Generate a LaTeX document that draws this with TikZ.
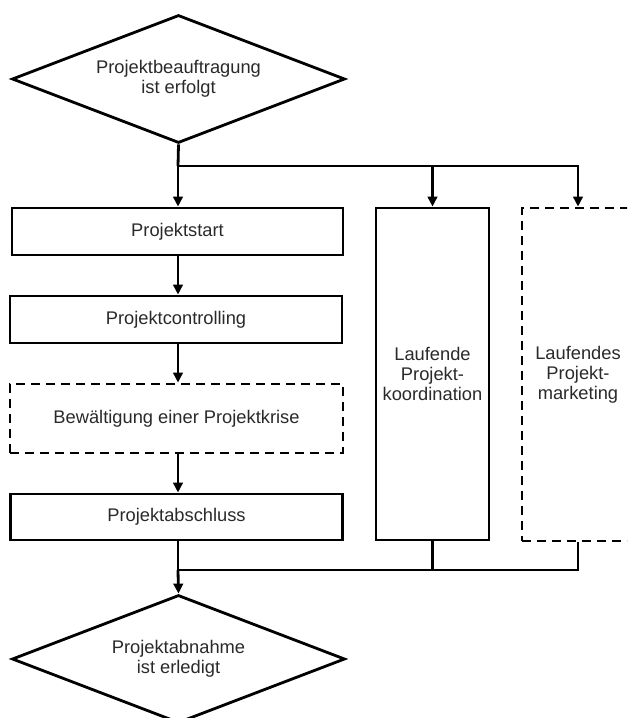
\documentclass[tikz,border=0pt]{standalone}
\usepackage{fontspec}
\setmainfont{Liberation Sans}
\usetikzlibrary{shapes.geometric,arrows.meta}

\definecolor{txt}{HTML}{2A2A2A}

\tikzset{
  every node/.style={font=\fontsize{18.3}{20}\selectfont, text=txt, align=center},
  frame/.style={draw=black, line width=2.8pt, fill=white},
  box/.style={frame, rectangle, inner sep=0pt},
  dashbox/.style={box, dash pattern=on 9pt off 6pt},
  decision/.style={frame, diamond, inner sep=0pt, aspect=2.6,
                   minimum width=333pt, minimum height=128pt},
  link/.style={draw=black, line width=2.8pt},
  arr/.style={link, -{Triangle[length=10pt,width=9.5pt]}},
}

\begin{document}
\begin{tikzpicture}[x=1pt, y=-1pt]
  \clip (0,0) rectangle (627,718);
  \fill[white] (0,0) rectangle (627,718);

  % main column
  \node[decision] (d1) at (178.5,79) {Projektbeauftragung\\ist erfolgt};
  \node[box, minimum width=331pt, minimum height=47pt] (start) at (177.5,231.5) {Projektstart};
  \node[box, minimum width=332pt, minimum height=47pt] (ctrl) at (176,319.5) {Projektcontrolling};
  \node[dashbox, minimum width=333pt, minimum height=69pt] (krise) at (176.5,418.5) {Bewältigung einer Projektkrise};
  \node[box, minimum width=332pt, minimum height=46pt] (absch) at (176.5,517) {Projektabschluss};
  \node[decision] (d2) at (178.5,659) {Projektabnahme\\ist erledigt};

  % parallel activities
  \node[box, minimum width=113pt, minimum height=332pt] (koord) at (432.5,374) {Laufende\\Projekt-\\koordination};
  \node[dashbox, minimum width=112pt, minimum height=333pt] (mark) at (578,374.5) {Laufendes\\Projekt-\\marketing};

  % split and join points
  \coordinate (j1) at (178,166);
  \coordinate (j2) at (178,570);

  % connectors
  \draw[link] (d1.south) -- (j1);
  \draw[arr] (j1) -- (j1 |- start.north);
  \draw[arr] (j1) -| (koord.north);
  \draw[arr] (j1) -| (mark.north);
  \draw[arr] (start.south -| j1) -- (ctrl.north -| j1);
  \draw[arr] (ctrl.south -| j1) -- (krise.north -| j1);
  \draw[arr] (krise.south -| j1) -- (absch.north -| j1);
  \draw[link] (absch.south -| j2) -- (j2);
  \draw[link] (koord.south) |- (j2);
  \draw[link] (mark.south) |- (j2);
  \draw[arr] (j2) -- (d2.north);
\end{tikzpicture}
\end{document}
